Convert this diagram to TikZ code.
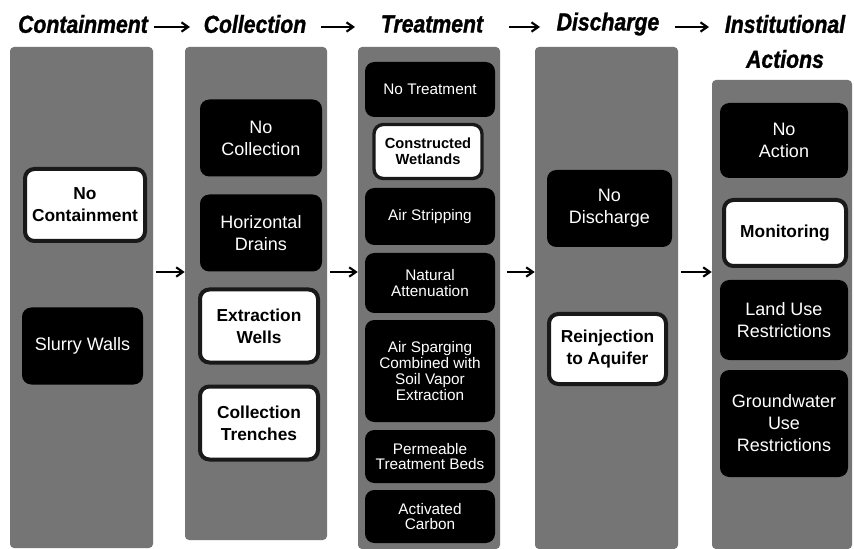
\documentclass[tikz,border=0pt]{standalone}
\usepackage{fontspec}
\setmainfont{Liberation Sans}
\newfontfamily\headfont{Liberation Sans}[FakeStretch=0.86, BoldItalicFeatures={FakeBold=1.2}]
\usetikzlibrary{arrows.meta}
\begin{document}
\begin{tikzpicture}[x=0.75pt,y=-0.75pt,
  column/.style={fill=black!54, draw=none, rounded corners=3pt, inner sep=0pt},
  option/.style={fill=black, text=white, rounded corners=7pt, align=center, inner sep=0pt,
    font=\fontsize{13.5}{16.5}\selectfont},
  chosen/.style={fill=white, draw=black!90, line width=3pt, text=black, rounded corners=7pt,
    align=center, inner sep=0pt, font=\bfseries\fontsize{13}{16.5}\selectfont},
  small/.style={font=\fontsize{11.5}{11.8}\selectfont},
  smallbold/.style={font=\bfseries\fontsize{11}{11.8}\selectfont},
  head/.style={font=\headfont\bfseries\itshape\fontsize{18.5}{21}\selectfont, inner sep=1pt},
  flow/.style={-{Straight Barb[length=5pt,width=7pt,line width=1.6pt]}, line width=1.6pt},
  box/.style 2 args={minimum width=#1*0.75pt, minimum height=#2*0.75pt}
]
\useasboundingbox[fill=white] (0,0) rectangle (854,549);

% stage headings
\node[head] (hA) at (83,24) {Containment};
\node[head] (hB) at (255,24) {Collection};
\node[head] (hC) at (432,24) {Treatment};
\node[head] (hD) at (608,24) {Discharge};
\node[head] (hE) at (785,24) {Institutional};
\node[head] (hF) at (785,59) {Actions};
\coordinate (hA1) at (154,27); \coordinate (hB0) at (190,27);
\coordinate (hB1) at (321,27); \coordinate (hC0) at (355,27);
\coordinate (hC1) at (509,27); \coordinate (hD0) at (540,27);
\coordinate (hD1) at (675,27); \coordinate (hE0) at (709,27);
\draw[flow] (hA1) -- (hB0);
\draw[flow] (hB1) -- (hC0);
\draw[flow] (hC1) -- (hD0);
\draw[flow] (hD1) -- (hE0);

% stage columns
\node[column, box={143}{501}] (colA) at (81.5,297.5) {};
\node[column, box={142}{493}] (colB) at (256,293.5) {};
\node[column, box={142}{502}] (colC) at (429,298) {};
\node[column, box={143}{502}] (colD) at (606.5,298) {};
\node[column, box={140}{469}] (colE) at (782,314.5) {};

% containment
\node[chosen, box={120}{72}] (a1n) at (85,205) {No\\Containment};
\node[option, box={121}{77}] (a2n) at (82.5,346) {Slurry Walls};

% collection
\node[option, box={122}{77}] (b1n) at (261,138) {No\\Collection};
\node[option, box={122}{77}] (b2n) at (261,233) {Horizontal\\Drains};
\node[chosen, box={118}{73}] (b3n) at (259,326) {Extraction\\Wells};
\node[chosen, box={118}{73}] (b4n) at (259,423) {Collection\\Trenches};

% treatment
\node[option, small, box={130}{55}] (c1n) at (430,89.5) {No Treatment};
\node[chosen, smallbold, line width=2.5pt, box={108}{54}] (c2n) at (428,151.5) {Constructed\\Wetlands};
\node[option, small, box={130}{57}] (c3n) at (430,216.5) {Air Stripping};
\node[option, small, box={130}{60}] (c4n) at (430,283) {Natural\\Attenuation};
\node[option, small, box={130}{102}] (c5n) at (430,371) {Air Sparging\\Combined with\\Soil Vapor\\Extraction};
\node[option, small, box={130}{53}] (c6n) at (430,456.5) {Permeable\\Treatment Beds};
\node[option, small, box={130}{53}] (c7n) at (430,516.5) {Activated\\Carbon};

% discharge
\node[option, box={125}{77}] (d1n) at (609.5,208.5) {No\\Discharge};
\node[chosen, box={117}{70}] (d2n) at (607.5,349) {Reinjection\\to Aquifer};

% institutional actions
\node[option, box={128}{75}] (e1n) at (784,140.5) {No\\Action};
\node[chosen, box={122}{66}] (e2n) at (785,233) {Monitoring};
\node[option, box={128}{80}] (e3n) at (784,320) {Land Use\\Restrictions};
\node[option, box={128}{107}] (e4n) at (784,423.5) {Groundwater\\Use\\Restrictions};

% flow between the columns
\coordinate (yA) at (0,272);
\draw[flow, shorten <=2pt] (colA.east |- yA) -- (colB.west |- yA);
\draw[flow, shorten <=2pt] (colB.east |- yA) -- (colC.west |- yA);
\draw[flow, shorten <=5pt] (colC.east |- yA) -- (colD.west |- yA);
\draw[flow, shorten <=2pt] (colD.east |- yA) -- (colE.west |- yA);
\end{tikzpicture}
\end{document}
